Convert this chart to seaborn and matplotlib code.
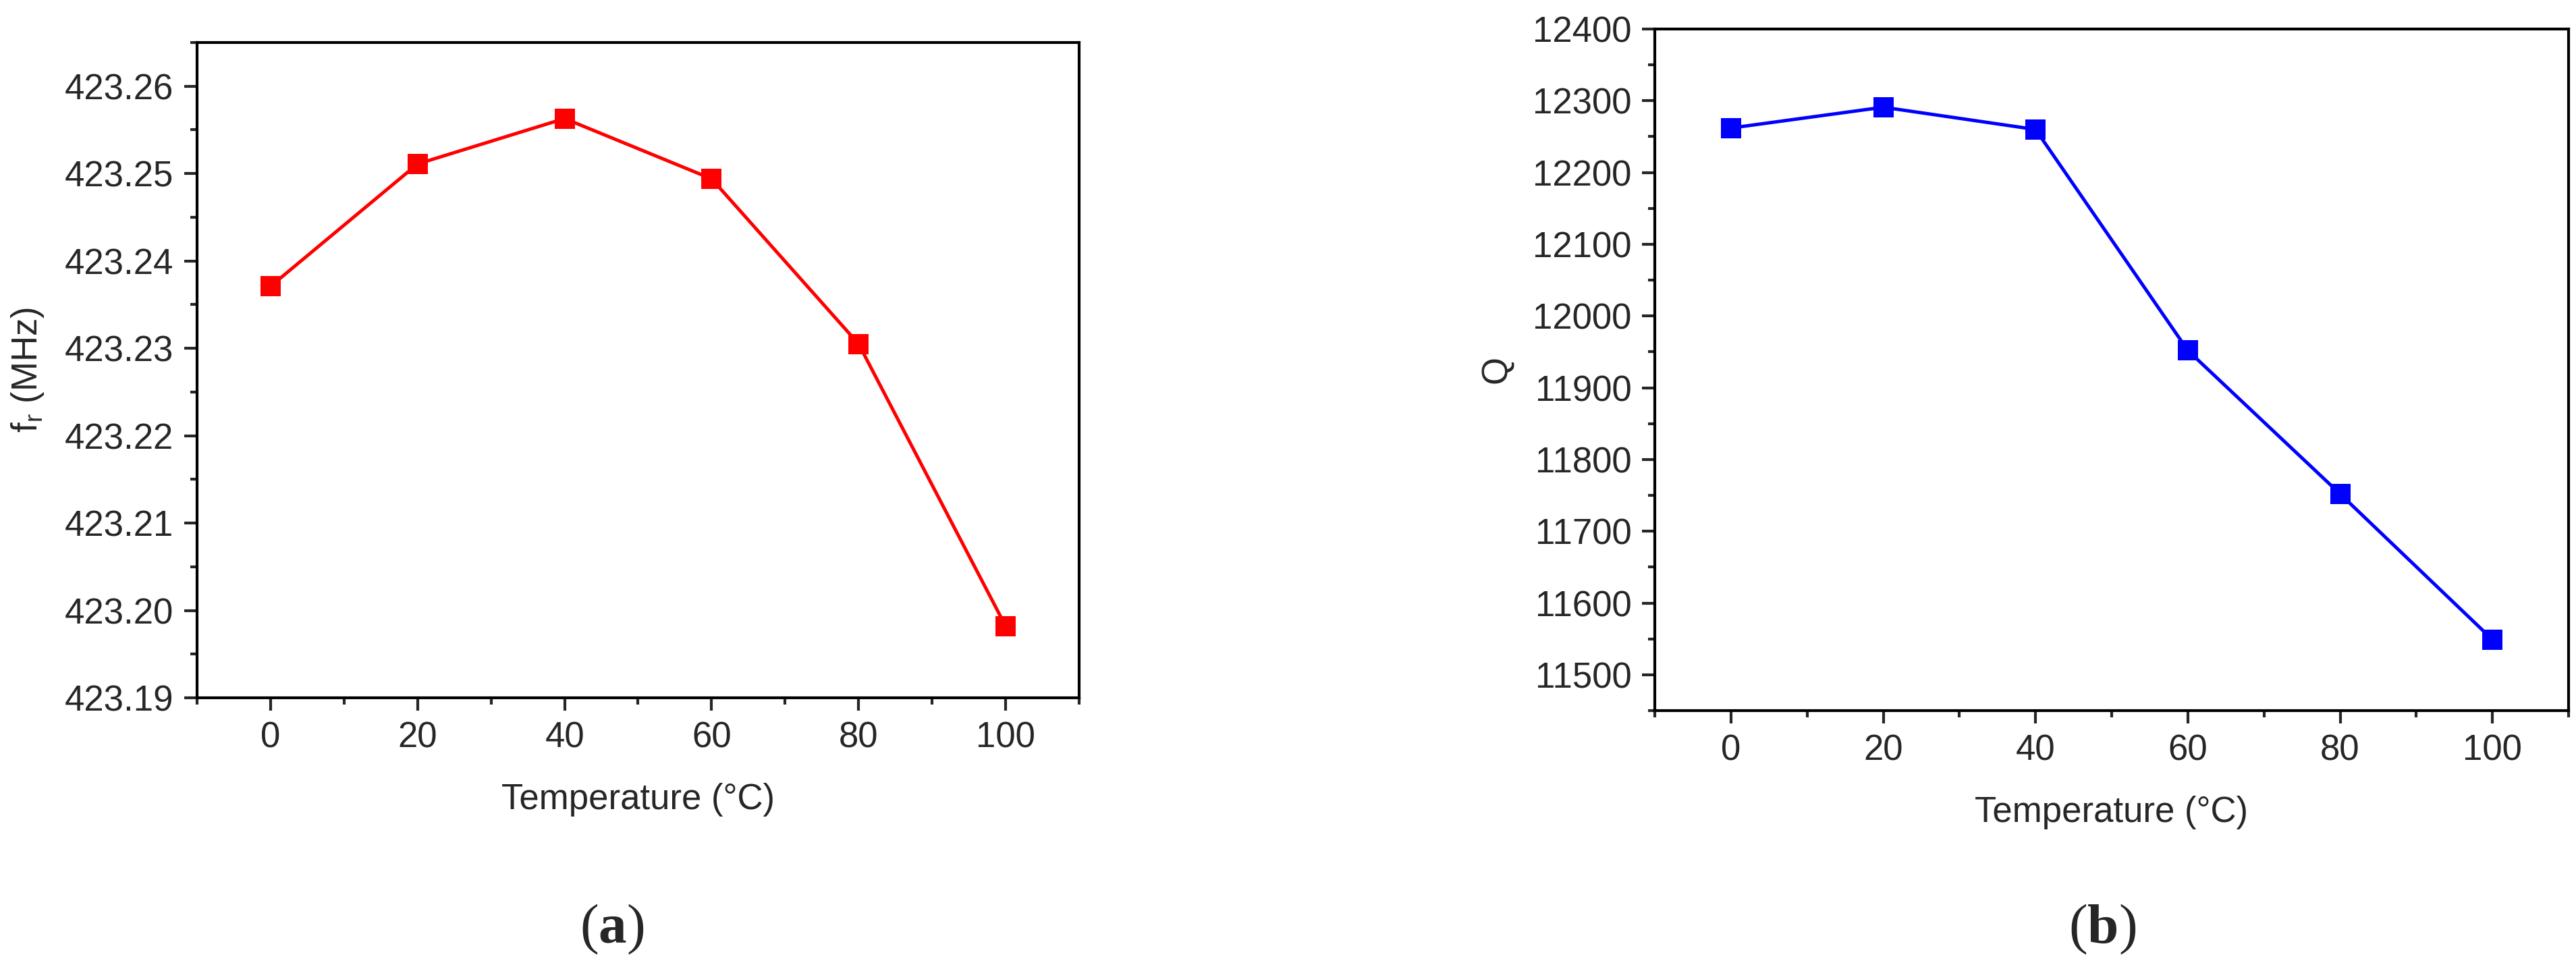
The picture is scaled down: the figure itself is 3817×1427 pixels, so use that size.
import matplotlib
matplotlib.use("Agg")
import matplotlib.pyplot as plt
from matplotlib.ticker import MultipleLocator
import pandas as pd
import seaborn as sns

# Data
temperature = [0, 20, 40, 60, 80, 100]
freq_mhz = [423.2371, 423.2511, 423.2563, 423.2494, 423.2305, 423.1982]
q_factor = [12262, 12291, 12260, 11952, 11752, 11549]

df = pd.DataFrame({"T": temperature, "fr": freq_mhz, "Q": q_factor})

sns.set_style("ticks")
plt.rcParams["font.family"] = ["Liberation Sans", "DejaVu Sans"]
plt.rcParams["mathtext.fontset"] = "custom"
plt.rcParams["mathtext.rm"] = "Liberation Serif"
plt.rcParams["mathtext.bf"] = "Liberation Serif:bold"

W, H = 3817, 1427
fig = plt.figure(figsize=(W / 100, H / 100), dpi=100)

ax1 = fig.add_axes([292 / W, 1 - 1034 / H, 1307 / W, 971 / H])
ax2 = fig.add_axes([2452 / W, 1 - 1053 / H, 1354 / W, 1010 / H])


def style_axis(ax, xlab, ylab, ymaj, ymin):
    ax.set_xlim(-10, 110)
    ax.xaxis.set_major_locator(MultipleLocator(20))
    ax.xaxis.set_minor_locator(MultipleLocator(10))
    ax.yaxis.set_major_locator(MultipleLocator(ymaj))
    ax.yaxis.set_minor_locator(MultipleLocator(ymin))
    for s in ax.spines.values():
        s.set_linewidth(3)
        s.set_color("black")
    ax.tick_params(which="major", direction="out", length=14, width=3,
                   labelsize=38, pad=11, top=False, right=False)
    ax.tick_params(which="minor", direction="out", length=7, width=3,
                   top=False, right=False)
    ax.set_xlabel(xlab, fontsize=38, labelpad=30)
    ax.set_ylabel(ylab, fontsize=38, labelpad=20)


sns.lineplot(data=df, x="T", y="fr", ax=ax1, color="#ff0000", linewidth=3.6,
             marker="s", markersize=21, markeredgewidth=0)
ax1.set_ylim(423.19, 423.265)
style_axis(ax1, "Temperature (°C)", r"f$_\mathregular{r}$ (MHz)", 0.01, 0.005)
ax1.yaxis.set_major_formatter(matplotlib.ticker.FormatStrFormatter("%.2f"))

sns.lineplot(data=df, x="T", y="Q", ax=ax2, color="#0000ff", linewidth=3.6,
             marker="s", markersize=21, markeredgewidth=0)
ax2.set_ylim(11450, 12400)
style_axis(ax2, "Temperature (°C)", "Q", 100, 50)

fig.text(907 / W, 1 - 1377 / H, r"($\mathbf{a}$)", family="Liberation Serif",
         fontsize=60, ha="center", va="center")
fig.text(3115 / W, 1 - 1377 / H, r"($\mathbf{b}$)", family="Liberation Serif",
         fontsize=60, ha="center", va="center")

fig.savefig("out.png", dpi=100)
